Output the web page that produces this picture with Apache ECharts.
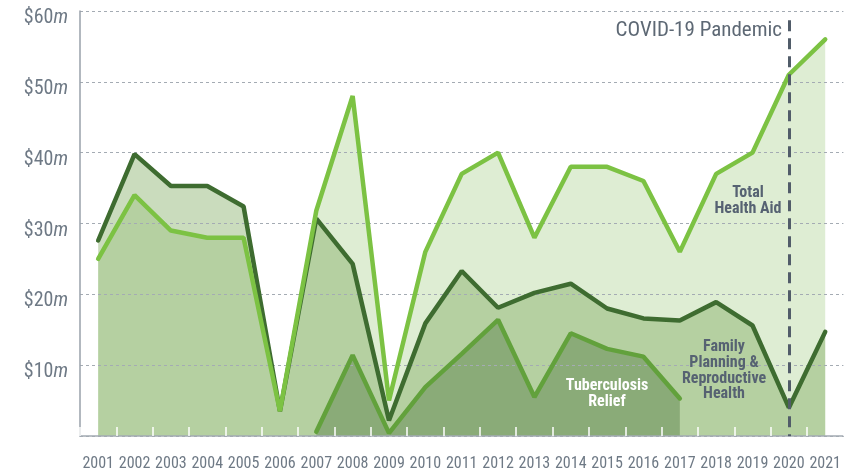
<!DOCTYPE html>
<html>
<head>
<meta charset="utf-8">
<script src="https://cdn.jsdelivr.net/npm/echarts@6/dist/echarts.min.js"></script>
<style>
  html, body { margin: 0; padding: 0; background: #fff; }
  #main { width: 844px; height: 473px; }
</style>
</head>
<body>
<div id="main"></div>
<script>
const years = ['2001', '2002', '2003', '2004', '2005', '2006', '2007', '2008', '2009', '2010', '2011',
  '2012', '2013', '2014', '2015', '2016', '2017', '2018', '2019', '2020', '2021'];

// millions of dollars
const totalHealthAid = [25, 34, 29, 28, 28, 3.5, 31.8, 48, 5, 26, 37, 40, 28, 38, 38, 36, 26, 37, 40, 51, 56];
const familyPlanning = [27.6, 39.8, 35.3, 35.3, 32.4, 3.5, 30.7, 24.3, 2.2, 15.9, 23.3, 18.1, 20.2, 21.5, 18, 16.6, 16.3, 18.9, 15.6, 4, 14.7];
const tuberculosis = [null, null, null, null, null, null, 0.6, 11.4, 0.4, 6.9, 11.6, 16.4, 5.5, 14.5, 12.3, 11.2, 5.3, null, null, null, null];

const covidYear = '2020';
const yTicks = [0, 10, 20, 30, 40, 50, 60];

const font = "'Liberation Sans Narrow', 'Roboto Condensed', Roboto, sans-serif";
const grey = '#6e7985';

const chart = echarts.init(document.getElementById('main'), null, { renderer: 'canvas' });

function fillSeries(name, data, color) {
  return {
    name: name,
    type: 'line',
    data: data,
    z: 1,
    symbol: 'none',
    silent: true,
    lineStyle: { width: 0, opacity: 0 },
    areaStyle: { color: color, opacity: 1 }
  };
}

function lineSeries(name, data, color) {
  return {
    name: name,
    type: 'line',
    data: data,
    z: 3,
    symbol: 'none',
    silent: true,
    lineStyle: { width: 4.5, color: color, cap: 'round' }
  };
}

function note(text, x, y, color) {
  return {
    type: 'text', x: x, y: y, z: 10,
    style: {
      text: text, fill: color, font: 'bold 16px ' + font,
      align: 'center', verticalAlign: 'top', lineHeight: 15.8
    }
  };
}

const option = {
  animation: false,
  grid: { left: 80, right: 0, top: 11, bottom: 37 },
  xAxis: {
    type: 'category',
    data: years,
    boundaryGap: true,
    z: 2,
    axisLine: { lineStyle: { color: '#a3abb3', width: 1.5 } },
    axisTick: { show: true, inside: true, length: 9, lineStyle: { color: '#ffffff', width: 1.5 } },
    axisLabel: { interval: 0, margin: 20, color: grey, fontSize: 16, fontFamily: font }
  },
  yAxis: {
    type: 'value',
    min: yTicks[0],
    max: yTicks[yTicks.length - 1],
    interval: 10,
    z: 2,
    axisLine: { show: true, lineStyle: { color: '#98a1aa', width: 1.5 } },
    axisTick: { show: false },
    splitLine: { lineStyle: { color: '#a4abb3', width: 1, type: [3, 3] } },
    axisLabel: {
      margin: 12,
      padding: [14, 0, 0, 0],
      formatter: function (v) { return v === 0 ? '' : '{n|$' + v + '}{u|m}'; },
      rich: {
        n: { fontSize: 20, color: grey, fontFamily: font },
        u: { fontSize: 20, color: grey, fontFamily: font, fontStyle: 'italic' }
      }
    }
  },
  series: [
    fillSeries('Total Health Aid fill', totalHealthAid, '#deedd3'),
    fillSeries('Family Planning fill', familyPlanning, 'rgba(109,158,72,0.36)'),
    fillSeries('Tuberculosis fill', tuberculosis, '#8aab78'),
    lineSeries('Family Planning & Reproductive Health', familyPlanning, '#3e6c30'),
    lineSeries('Tuberculosis Relief', tuberculosis, '#62a13c'),
    Object.assign(lineSeries('Total Health Aid', totalHealthAid, '#7cc243'), {
      markLine: {
        z: 5,
        silent: true,
        symbol: 'none',
        label: { show: false },
        lineStyle: { color: '#515c69', width: 3, type: [11, 7] },
        data: [[{ coord: [covidYear, 58.7] }, { coord: [covidYear, 0] }]]
      }
    })
  ],
  graphic: [
    {
      type: 'text', x: 782, y: 31, z: 10,
      style: {
        text: 'COVID-19 Pandemic', fill: '#5d6874', font: '21px ' + font,
        align: 'right', verticalAlign: 'middle'
      }
    },
    note('Total\nHealth Aid', 748, 185, '#566272'),
    note('Family\nPlanning &\nReproductive\nHealth', 724, 339, '#566272'),
    note('Tuberculosis\nRelief', 607, 378, '#ffffff')
  ]
};

chart.setOption(option);
</script>
</body>
</html>
